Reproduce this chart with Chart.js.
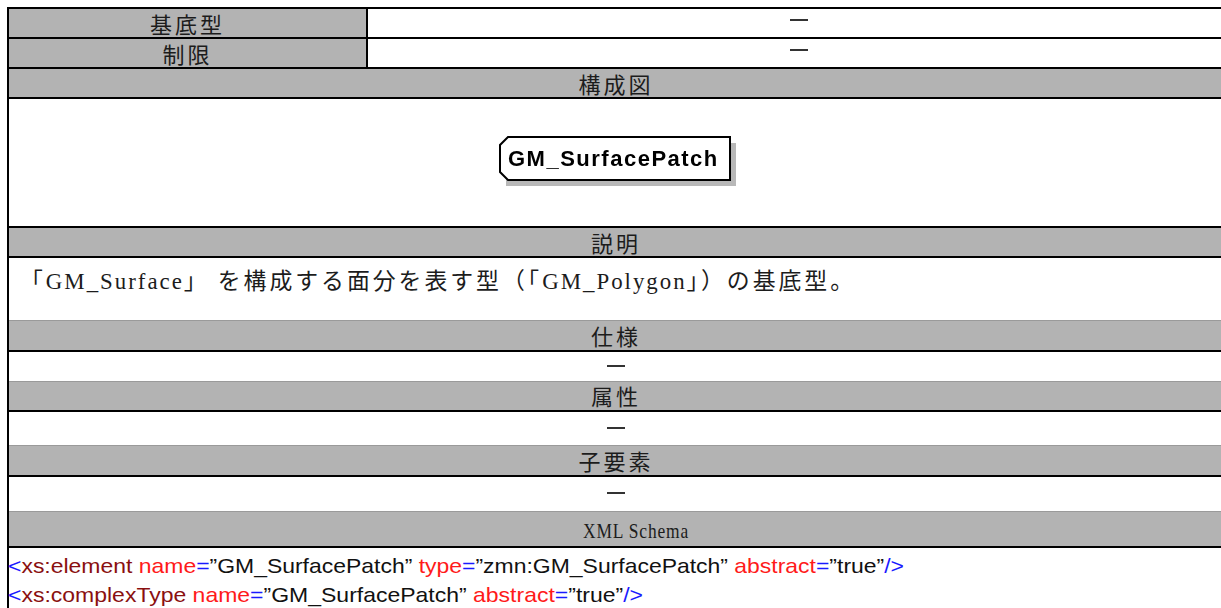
<!DOCTYPE html>
<html>
<head>
<meta charset="utf-8">
<script src="https://cdn.jsdelivr.net/npm/chart.js@4"></script>
<style>
  html, body { margin: 0; padding: 0; background: #fff; overflow: hidden; }
  body { width: 1221px; height: 608px; position: relative; }
  .row { position: absolute; left: 9px; width: 1212px; }
  .gray { background: #b3b3b3; }
  .line { position: absolute; left: 7px; width: 1214px; height: 2px; background: #000; }
  .faint { position: absolute; left: 9px; width: 1212px; height: 1px; background: #9a9a9a; }
  .cap { position: absolute; left: 9px; width: 1214px; text-align: center;
         font-family: "Noto Sans CJK JP", sans-serif; font-size: 22px; letter-spacing: 3px;
         color: #1c1c1c; line-height: 28px; }
  .lat { font-family: "Liberation Serif", serif; letter-spacing: 0; }
  .dash { position: absolute; height: 2px; width: 18px; background: #333; }
  .fit { position: absolute; white-space: nowrap; transform-origin: 0 50%; }
  #desc { left: 20px; top: 265px;
          font-family: "Noto Sans CJK JP", sans-serif; font-size: 23px; letter-spacing: 3px;
          color: #1c1c1c; line-height: 28px; }
  #desc .lat { font-size: 23px; letter-spacing: 2px; }
  #schemaCap { top: 517px; font-family: "Liberation Serif", serif; font-size: 21px; letter-spacing: 1px;
               color: #1c1c1c; line-height: 28px; }
  .code { left: 8px; font-family: "Liberation Sans", Arial, sans-serif; font-size: 21px; line-height: 26px; color: #111; }
  .b { color: #1a1aff; }
  .m { color: #8a1010; }
  .r { color: #ff1a1a; }
</style>
</head>
<body>
<div id="page"></div>
<canvas id="diagram" width="1212" height="127" style="position:absolute;left:9px;top:99px;"></canvas>
<script>
// table text
const propLabels = ['基底型', '制限'];
const propValues = ['―', '―'];
const sectionTitles = ['構成図', '説明', '仕様', '属性', '子要素'];
const schemaTitle = 'XML Schema';
const descParts = ['「', 'GM_Surface', '」 を構成する面分を表す型（「', 'GM_Polygon', '」）の基底型。'];

// diagram node
const nodeNames = ['GM_SurfacePatch'];
const nodeX = [0];
const nodeY = [0.06];

const page = document.getElementById('page');

function add(html) {
  page.insertAdjacentHTML('beforeend', html);
  return page.lastElementChild;
}

// squeeze or stretch a text line to the width it has in the picture
function fitWidth(el, target) {
  const w = el.getBoundingClientRect().width;
  el.style.transform = 'scaleX(' + (target / w) + ')';
}

// grey header bands
add('<div class="row gray" style="top:9px;height:28px;width:357px"></div>');
add('<div class="row gray" style="top:39px;height:28px;width:357px"></div>');
add('<div class="row gray" style="top:69px;height:28px"></div>');
add('<div class="row gray" style="top:228px;height:28px"></div>');
add('<div class="row gray" style="top:320px;height:30px"></div>');
add('<div class="row gray" style="top:381px;height:29px"></div>');
add('<div class="row gray" style="top:445px;height:30px"></div>');
add('<div class="row gray" style="top:511px;height:35px"></div>');

// borders
[7, 37, 67, 97, 226, 256, 350, 410, 475, 546].forEach(y => add('<div class="line" style="top:' + y + 'px"></div>'));
[320, 381, 445, 511].forEach(y => add('<div class="faint" style="top:' + y + 'px"></div>'));
add('<div style="position:absolute;left:7px;top:7px;width:2px;height:601px;background:#000"></div>');
add('<div style="position:absolute;left:366px;top:7px;width:2px;height:62px;background:#000"></div>');

// property rows
propLabels.forEach((t, i) => {
  add('<div class="cap" style="width:357px;top:' + (9 + i * 30) + 'px">' + t + '</div>');
  add('<div class="dash" style="left:790px;top:' + (19 + i * 30) + 'px"></div>');
});

// section captions
const capTops = [69, 228, 321, 381, 446];
sectionTitles.forEach((t, i) => {
  add('<div class="cap" style="top:' + capTops[i] + 'px">' + t + '</div>');
});
const sc = add('<div id="schemaCap" class="fit" style="left:583px">' + schemaTitle + '</div>');
fitWidth(sc, 106);

// empty section values
[365, 427, 492].forEach(y => add('<div class="dash" style="left:607px;top:' + y + 'px"></div>'));

// description
const desc = add('<div id="desc" class="fit">' + descParts.map((p, i) => i % 2 ? '<span class="lat">' + p + '</span>' : p).join('') + '</div>');
fitWidth(desc, 836);

// schema lines
const c1 = add('<div class="code fit" style="top:553px"><span class="b">&lt;</span><span class="m">xs:element</span> <span class="r">name</span><span class="b">=</span>”GM_SurfacePatch” <span class="r">type</span><span class="b">=</span>”zmn:GM_SurfacePatch” <span class="r">abstract</span><span class="b">=</span>”true”<span class="b">/&gt;</span></div>');
const c2 = add('<div class="code fit" style="top:582px"><span class="b">&lt;</span><span class="m">xs:complexType</span> <span class="r">name</span><span class="b">=</span>”GM_SurfacePatch” <span class="r">abstract</span><span class="b">=</span>”true”<span class="b">/&gt;</span></div>');
fitWidth(c1, 896);
fitWidth(c2, 635);

// node box drawn at the point position
const nodeBox = {
  id: 'nodeBox',
  afterDatasetsDraw(chart) {
    const ctx = chart.ctx;
    const meta = chart.getDatasetMeta(0);
    meta.data.forEach((pt, i) => {
      const w = 230, h = 43, c = 8;
      const x0 = Math.round(pt.x - w / 2), y0 = Math.round(pt.y - h / 2);
      // shadow
      ctx.fillStyle = '#b8b8b8';
      ctx.fillRect(x0 + 6, y0 + 6, w, h);
      // outline with cut corners on the left
      ctx.beginPath();
      ctx.moveTo(x0 + c, y0);
      ctx.lineTo(x0 + w, y0);
      ctx.lineTo(x0 + w, y0 + h);
      ctx.lineTo(x0 + c, y0 + h);
      ctx.lineTo(x0, y0 + h - c);
      ctx.lineTo(x0, y0 + c);
      ctx.closePath();
      ctx.fillStyle = '#fff';
      ctx.fill();
      ctx.strokeStyle = '#000';
      ctx.lineWidth = 2;
      ctx.stroke();
      ctx.fillStyle = '#000';
      ctx.font = 'bold 22px "Liberation Sans", Arial, sans-serif';
      ctx.textBaseline = 'middle';
      ctx.textAlign = 'left';
      if ('letterSpacing' in ctx) ctx.letterSpacing = '1.5px';
      ctx.fillText(nodeNames[i], x0 + 8, y0 + h / 2 + 1);
    });
  }
};

new Chart(document.getElementById('diagram'), {
  type: 'scatter',
  data: {
    datasets: [{
      data: nodeX.map((x, i) => ({ x: x, y: nodeY[i] })),
      pointRadius: 0
    }]
  },
  options: {
    responsive: false,
    animation: false,
    devicePixelRatio: 1,
    layout: { padding: 0 },
    plugins: { legend: { display: false }, tooltip: { enabled: false } },
    scales: {
      x: { display: false, min: -1, max: 1 },
      y: { display: false, min: -1, max: 1 }
    }
  },
  plugins: [nodeBox]
});
</script>
</body>
</html>
